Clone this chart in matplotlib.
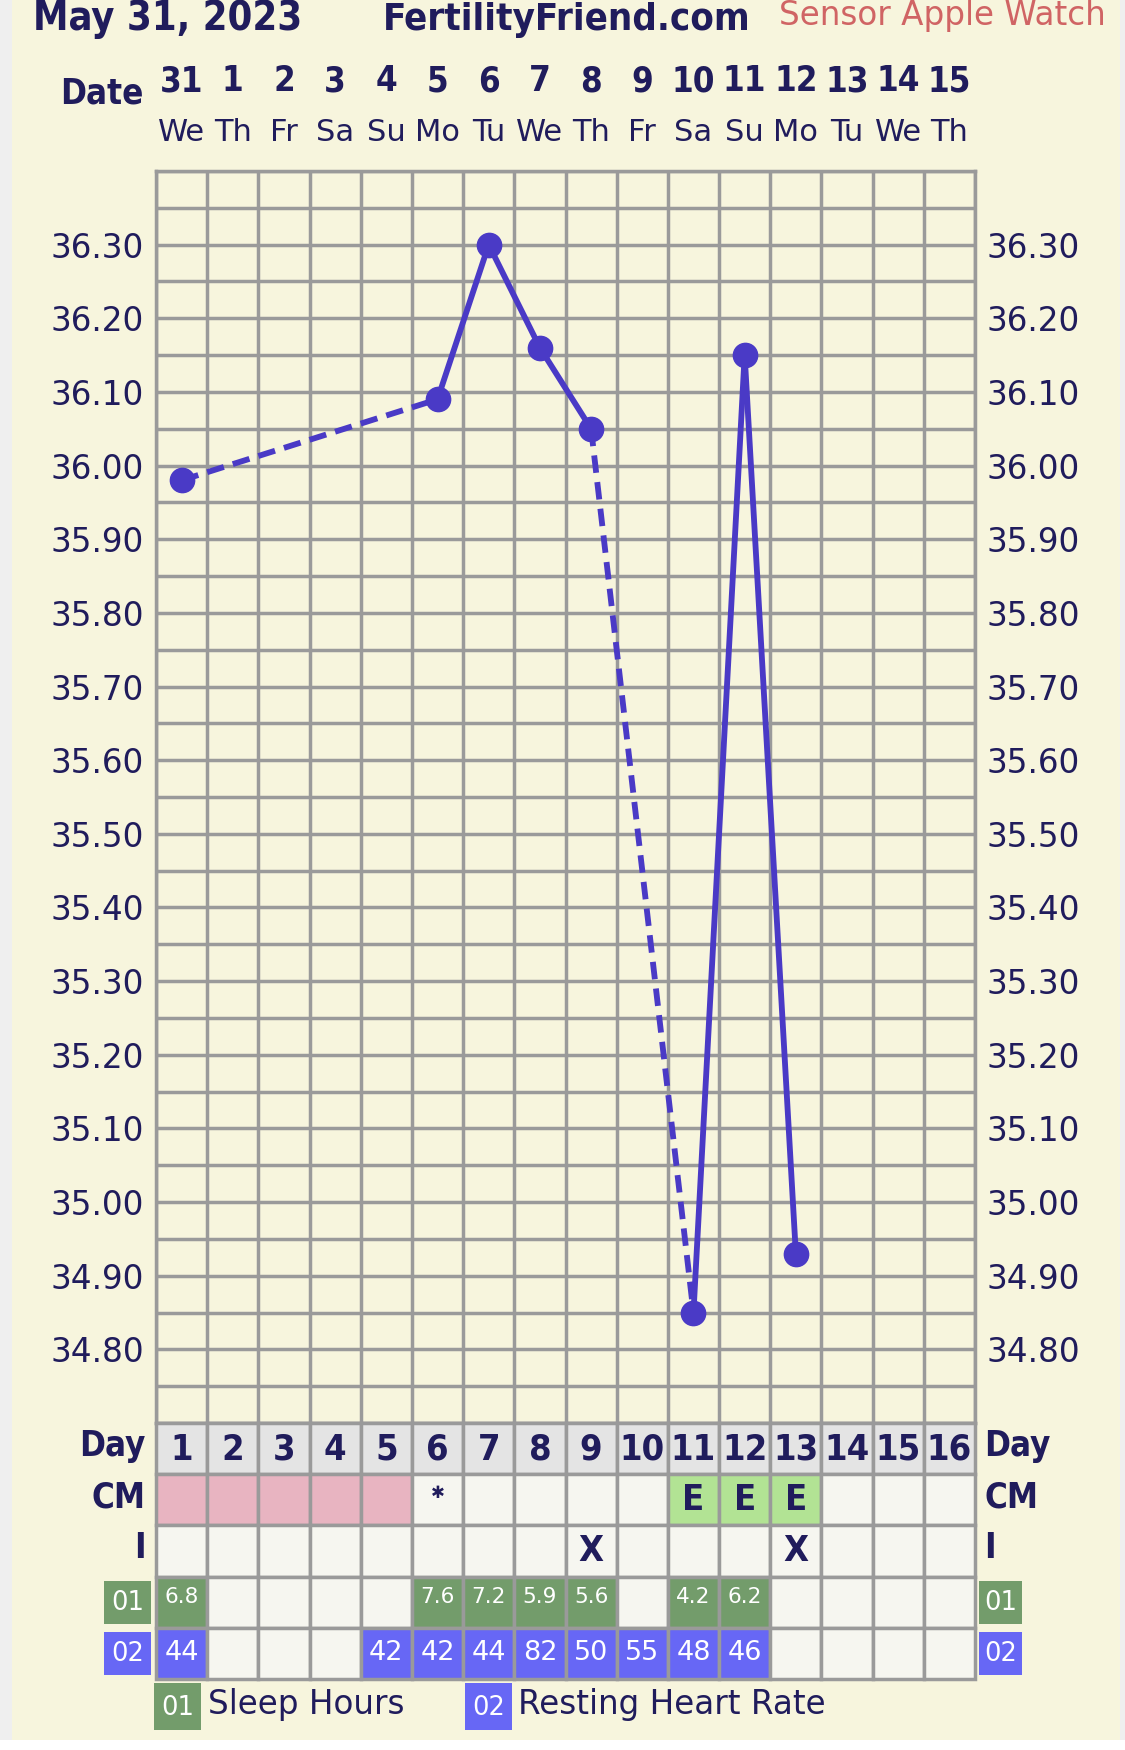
import numpy as np
import matplotlib
matplotlib.use("Agg")
import matplotlib.pyplot as plt
from matplotlib.patches import Rectangle

# ---- data ----
dates = [31, 1, 2, 3, 4, 5, 6, 7, 8, 9, 10, 11, 12, 13, 14, 15]
weekdays = ["We", "Th", "Fr", "Sa", "Su", "Mo", "Tu", "We", "Th", "Fr",
            "Sa", "Su", "Mo", "Tu", "We", "Th"]
cycle_days = list(range(1, 17))

temp_days = [1, 6, 7, 8, 9, 11, 12, 13]
temps = [35.98, 36.09, 36.30, 36.16, 36.05, 34.85, 36.15, 34.93]

cm_marks = ["", "", "", "", "", "*", "", "", "", "", "E", "E", "E", "", "", ""]
period_days = [1, 2, 3, 4, 5]
intercourse = ["", "", "", "", "", "", "", "", "X", "", "", "", "X", "", "", ""]

sleep_days = [1, 6, 7, 8, 9, 11, 12]
sleep_hours = [6.8, 7.6, 7.2, 5.9, 5.6, 4.2, 6.2]
hr_days = [1, 5, 6, 7, 8, 9, 10, 11, 12]
resting_hr = [44, 42, 42, 44, 82, 50, 55, 48, 46]

ytick_vals = np.round(np.arange(34.80, 36.301, 0.10), 2)
ygrid_vals = np.round(np.arange(34.70, 36.401, 0.05), 2)

# ---- colours ----
CREAM = "#F7F5DD"
GRID = "#9A9A9A"
NAVY = "#201C5C"
LINE = "#4A3AC6"
PINK = "#E8B4C1"
LGREEN = "#B2E394"
DGREEN = "#739C6B"
BLUE = "#6767F5"
CELL = "#F6F6F0"
DAYCELL = "#E4E4E4"

W, H = 1125, 1750
fig = plt.figure(figsize=(W / 100, H / 100), dpi=100, facecolor="white")
fig.patches.append(Rectangle((0, 10 / H), 1, 1, transform=fig.transFigure,
                             facecolor="#EFEFEF", edgecolor="none", zorder=-3))
fig.patches.append(Rectangle((12 / W, 10 / H), 1108 / W, 1, transform=fig.transFigure,
                             facecolor=CREAM, edgecolor="none", zorder=-2))

# condensed bold (DejaVu Sans Condensed) for the header-style labels
cond = dict(family="DejaVu Sans", fontstretch="condensed", fontweight="bold", color=NAVY)

# ---- temperature chart ----
left, right = 156 / W, 975 / W
ax = fig.add_axes([left, (H - 1423) / H, right - left, (1423 - 171) / H])
ax.set_facecolor("none")
ax.set_xlim(0.5, 16.5)
ax.set_ylim(34.70, 36.40)
ax.set_xticks(np.arange(0.5, 16.6, 1), minor=True)
ax.set_xticks([])
ax.set_yticks(ytick_vals)
ax.set_yticklabels(["%.2f" % v for v in ytick_vals])
ax.set_yticks(ygrid_vals, minor=True)
ax.grid(which="both", color=GRID, linewidth=2.5)
ax.tick_params(which="both", length=0, labelsize=23.5, labelcolor=NAVY,
               left=False, right=False, labelleft=True, labelright=True, pad=8.5)
for sp in ax.spines.values():
    sp.set_color(GRID)
    sp.set_linewidth(2.5)

for i in range(len(temp_days) - 1):
    style = "-" if temp_days[i + 1] - temp_days[i] == 1 else (0, (3, 1.6))
    ax.plot(temp_days[i:i + 2], temps[i:i + 2], color=LINE, lw=4.2,
            linestyle=style, solid_capstyle="butt", zorder=3)
ax.plot(temp_days, temps, "o", color=LINE, markersize=17.5, zorder=4)

tx = ax.get_xaxis_transform()
for d, dt, wd in zip(cycle_days, dates, weekdays):
    ax.text(d, 1.0715, str(dt), transform=tx, ha="center", va="center",
            fontsize=25, **cond)
    ax.text(d, 1.031, wd, transform=tx, ha="center", va="center",
            fontsize=22, color=NAVY)
ax.text(0.25, 1.062, "Date", transform=tx, ha="right", va="center",
        fontsize=25, **cond)

fig.text(33 / W, 1 - 30 / H, "May 31, 2023", ha="left", va="baseline",
         fontsize=28.5, **cond)
fig.text(383 / W, 1 - 30 / H, "FertilityFriend.com", ha="left", va="baseline",
         fontsize=27.5, **cond)
fig.text(779 / W, 1 - 25 / H, "Sensor Apple Watch", ha="left", va="baseline",
         fontsize=23.5, color="#D06464")

# ---- data table below ----
tb = fig.add_axes([left, (H - 1679) / H, right - left, (1679 - 1423) / H])
tb.set_facecolor("none")
tb.set_xlim(0.5, 16.5)
tb.set_ylim(5, 0)
tb.axis("off")

cols = np.array(cycle_days)
day_colors = [DAYCELL] * 16
cm_colors = [PINK if d in period_days else (LGREEN if m == "E" else CELL)
             for d, m in zip(cycle_days, cm_marks)]
i_colors = [CELL] * 16
sleep_colors = [DGREEN if d in sleep_days else CELL for d in cycle_days]
hr_colors = [BLUE if d in hr_days else CELL for d in cycle_days]
for row, colors in enumerate([day_colors, cm_colors, i_colors, sleep_colors, hr_colors]):
    tb.bar(cols, 1, bottom=row, width=1, color=colors, edgecolor=GRID,
           linewidth=2.5, align="center", clip_on=False)

for d in cycle_days:
    tb.text(d, 0.52, str(d), ha="center", va="center", fontsize=26, **cond)
for d, m in zip(cycle_days, cm_marks):
    if m == "E":
        tb.text(d, 1.5, m, ha="center", va="center", fontsize=26, **cond)
    elif m == "*":
        tb.text(d, 1.36, "\u2731", ha="center", va="center", fontsize=12, color=NAVY)
for d, m in zip(cycle_days, intercourse):
    if m:
        tb.text(d, 2.5, m, ha="center", va="center", fontsize=26, **cond)
for d, v in zip(sleep_days, sleep_hours):
    tb.text(d, 3.4, "%.1f" % v, ha="center", va="center", fontsize=15.5, color="white")
for d, v in zip(hr_days, resting_hr):
    tb.text(d, 4.5, str(v), ha="center", va="center", fontsize=19.5, color="white")

# row labels left and right
for row, lab in enumerate(["Day", "CM", "I"]):
    tb.text(0.3, row + 0.45, lab, ha="right", va="center", fontsize=25, **cond)
    tb.text(16.68, row + 0.45, lab, ha="left", va="center", fontsize=25, **cond)
for row, lab, c in [(3, "01", DGREEN), (4, "02", BLUE)]:
    for x0, w in [(-0.52, 0.92), (16.58, 0.84)]:
        tb.add_patch(Rectangle((x0, row + 0.08), w, 0.84, facecolor=c,
                               edgecolor="none", clip_on=False))
        tb.text(x0 + w / 2, row + 0.52, lab, ha="center", va="center",
                fontsize=18.5, color="white")

# legend
for x0, lab, c, name in [(0.46, "01", DGREEN, "Sleep Hours"),
                         (6.53, "02", BLUE, "Resting Heart Rate")]:
    tb.add_patch(Rectangle((x0, 5.08), 0.92, 0.92, facecolor=c,
                           edgecolor="none", clip_on=False))
    tb.text(x0 + 0.46, 5.56, lab, ha="center", va="center", fontsize=18.5, color="white")
    tb.text(x0 + 1.05, 5.5, name, ha="left", va="center", fontsize=23.5, color=NAVY)

fig.savefig("out.png", dpi=100, facecolor=fig.get_facecolor())
